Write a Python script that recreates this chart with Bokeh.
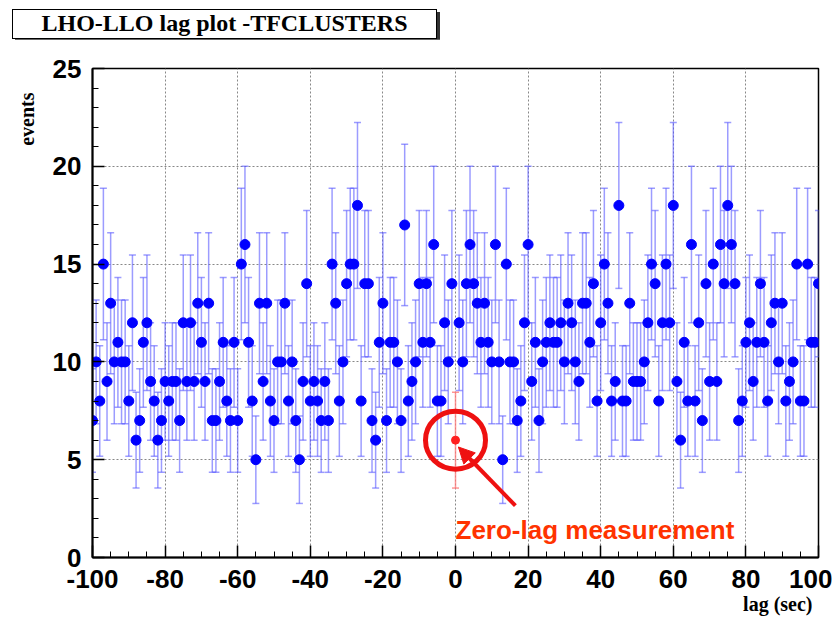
import numpy as np
from bokeh.plotting import figure
from bokeh.layouts import column
from bokeh.models import (ColumnDataSource, Whisker, TeeHead, Label, Arrow, Title, Div,
                          NormalHead, SingleIntervalTicker, PrintfTickFormatter)
from bokeh.embed import file_html
from bokeh.resources import INLINE

# ---------------- data ----------------
lags = list(range(-100, 101))
counts = [
    7, 10, 8, 15, 9, 13, 10, 11, 10, 10,      # -100 .. -91
    8, 12, 6, 7, 11, 12, 9, 8, 6, 7,          # -90 .. -81
    9, 8, 9, 9, 7, 12, 9, 12, 9, 13,          # -80 .. -71
    11, 9, 13, 7, 7, 9, 11, 8, 7, 11,         # -70 .. -61
    7, 15, 16, 11, 8, 5, 13, 9, 13, 8,        # -60 .. -51
    7, 10, 10, 13, 8, 10, 7, 5, 9, 14,        # -50 .. -41
    8, 9, 8, 7, 9, 7, 15, 13, 8, 10,          # -40 .. -31
    14, 15, 15, 18, 8, 14, 14, 7, 6, 11,      # -30 .. -21
    13, 7, 11, 11, 10, 7, 17, 8, 9, 10,       # -20 .. -11
    14, 11, 14, 11, 16, 8, 8, 12, 10, 14,     # -10 .. -1
    6,                                        # 0 (zero lag)
    12, 10, 14, 16, 14, 13, 11, 13, 11, 10,   # 1 .. 10
    16, 10, 5, 15, 10, 10, 7, 8, 12, 16,      # 11 .. 20
    9, 11, 7, 10, 11, 12, 11, 11, 12, 10,     # 21 .. 30
    13, 12, 10, 9, 13, 13, 11, 14, 8, 12,     # 31 .. 40
    15, 13, 8, 9, 18, 8, 8, 13, 9, 9,         # 41 .. 50
    9, 10, 12, 15, 14, 8, 12, 15, 12, 18,     # 51 .. 60
    9, 6, 11, 8, 16, 8, 12, 7, 14, 9,         # 61 .. 70
    15, 9, 16, 14, 18, 16, 14, 7, 8, 11,      # 71 .. 80
    12, 9, 11, 14, 11, 8, 12, 13, 10, 13,     # 81 .. 90
    8, 9, 10, 15, 8, 8, 15, 11, 11, 14,       # 91 .. 100
]
zero_lag = 0

x_ticks_interval = 20
y_ticks_interval = 5

lags_a = np.array(lags)
counts_a = np.array(counts, dtype=float)
bg = lags_a != zero_lag
zl = lags_a == zero_lag

src = ColumnDataSource(dict(
    x=lags_a[bg], y=counts_a[bg],
    lower=counts_a[bg] - np.sqrt(counts_a[bg]),
    upper=counts_a[bg] + np.sqrt(counts_a[bg])))
src0 = ColumnDataSource(dict(
    x=lags_a[zl], y=counts_a[zl],
    lower=counts_a[zl] - np.sqrt(counts_a[zl]),
    upper=counts_a[zl] + np.sqrt(counts_a[zl])))

# ---------------- title box (ROOT style, with shadow) ----------------
title_div = Div(text="LHO-LLO lag plot -TFCLUSTERS", width=425, height=30,
                margin=(9, 0, 0, 12),
                styles={"font-family": "Liberation Serif", "font-weight": "bold",
                        "font-size": "24px", "color": "black",
                        "background": "white", "border": "1.5px solid black",
                        "box-shadow": "3px 3px 0 #333333", "box-sizing": "border-box",
                        "text-align": "center", "line-height": "26px"})

# ---------------- figure ----------------
p = figure(width=832, height=582, x_range=(-100, 100), y_range=(0, 25),
           output_backend="svg", toolbar_location=None,
           min_border_left=92, min_border_right=14,
           min_border_top=29, min_border_bottom=64)
p.title.text = ""
p.title.standoff = 0
p.background_fill_color = "white"
p.border_fill_color = "white"
p.outline_line_color = "black"
p.outline_line_width = 1.5
p.outline_line_alpha = 1.0

p.xaxis.ticker = SingleIntervalTicker(interval=x_ticks_interval, num_minor_ticks=4)
p.yaxis.ticker = SingleIntervalTicker(interval=y_ticks_interval, num_minor_ticks=5)
p.xaxis.formatter = PrintfTickFormatter(format="%d")
p.yaxis.formatter = PrintfTickFormatter(format="%d")

for ax in (p.xaxis, p.yaxis):
    ax.major_tick_in = 12
    ax.major_tick_out = 0
    ax.minor_tick_in = 6
    ax.minor_tick_out = 0
    ax.axis_line_width = 2
    ax.axis_line_color = "black"
    ax.major_tick_line_width = 1.5
    ax.minor_tick_line_width = 1
    ax.major_label_text_font = "Liberation Sans"
    ax.major_label_text_font_style = "bold"
    ax.major_label_text_font_size = "26px"
    ax.major_label_text_color = "black"
p.xaxis.major_label_standoff = 12
p.yaxis.major_label_standoff = 11

# axis titles as side titles (so they can sit at the ends of the axes)
p.add_layout(Title(text="lag (sec)", align="right", offset=6, standoff=0,
                   text_font="Liberation Serif", text_font_style="bold",
                   text_font_size="20px", text_color="black"), "below")
p.add_layout(Title(text="events", align="right", vertical_align="top",
                   offset=24, standoff=20,
                   text_font="Liberation Serif", text_font_style="bold",
                   text_font_size="20px", text_color="black"), "left")

for g in (p.xgrid, p.ygrid):
    g.grid_line_color = "#888888"
    g.grid_line_dash = "2 2"
    g.grid_line_width = 1

# error bars
eb_col = "#5a5aff"
p.add_layout(Whisker(source=src, base="x", upper="upper", lower="lower",
                     line_color=eb_col, line_alpha=0.6, line_width=1.5,
                     upper_head=TeeHead(size=7, line_color=eb_col, line_alpha=0.6, line_width=1.5),
                     lower_head=TeeHead(size=7, line_color=eb_col, line_alpha=0.6, line_width=1.5)))
p.scatter("x", "y", source=src, size=10, color="#0000ff")

red_eb = "#ff7a7a"
p.add_layout(Whisker(source=src0, base="x", upper="upper", lower="lower",
                     line_color=red_eb, line_alpha=0.8, line_width=1.5,
                     upper_head=TeeHead(size=7, line_color=red_eb, line_alpha=0.8, line_width=1.5),
                     lower_head=TeeHead(size=7, line_color=red_eb, line_alpha=0.8, line_width=1.5)))
p.scatter("x", "y", source=src0, size=8, color="#ff2020")

# annotation: circle, arrow, text
red = "#ee1111"
p.ellipse(x="x", y="y", source=src0, width=60, height=58,
          width_units="screen", height_units="screen",
          fill_alpha=0, line_color=red, line_width=5)
z_y = float(counts_a[zl][0])
p.add_layout(Arrow(end=NormalHead(size=16, fill_color=red, line_color=red),
                   x_start=zero_lag + 16.5, y_start=z_y - 3.35,
                   x_end=zero_lag + 0.8, y_end=z_y - 0.35,
                   line_color=red, line_width=4))
p.add_layout(Label(x=zero_lag, y=1.4, text="Zero-lag measurement",
                   text_font="Liberation Sans", text_font_style="bold",
                   text_font_size="26px", text_color="#ff3300",
                   text_align="left", text_baseline="alphabetic"))

layout = column(title_div, p, spacing=0)
open("out.html", "w").write(file_html(layout, INLINE))
